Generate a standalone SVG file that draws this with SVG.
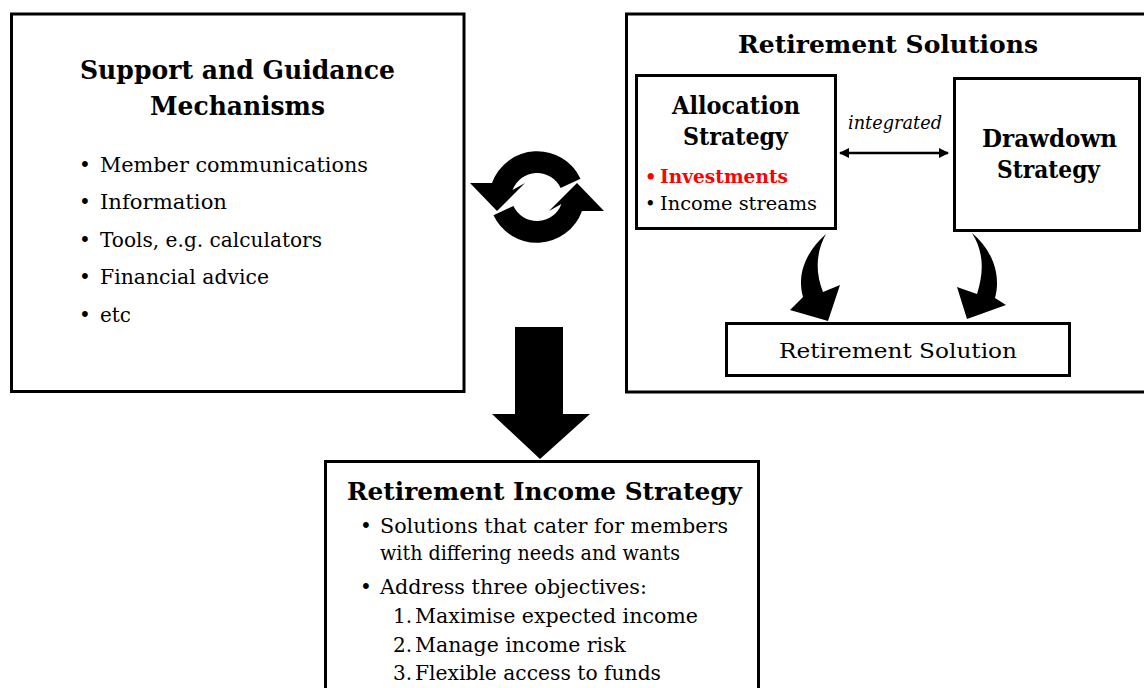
<svg xmlns="http://www.w3.org/2000/svg" width="1144" height="688" viewBox="0 0 1144 688">
  <style>
    .box { fill: #fff; stroke: #000; stroke-width: 3; }
    .t { font-family: "DejaVu Serif", "Liberation Serif", serif; fill: #000; }
    .b { font-weight: bold; }
    .h1 { font-size: 26px; }
    .h2 { font-size: 24px; }
    .body { font-size: 20px; }
    .small { font-size: 18px; }
    .ital { font-style: italic; }
    .red { fill: #ff0000; }
    .solid { fill: #000; stroke: none; }
  </style>
  <defs>
    <marker id="ah" viewBox="0 0 10 10" refX="9" refY="5" markerWidth="10" markerHeight="10" markerUnits="userSpaceOnUse" orient="auto-start-reverse">
      <path d="M0,0 L10,5 L0,10 Z" fill="#000"/>
    </marker>
    <path id="halfCycle" d="M492,183 A48,48 0 0 1 580.5,178.7 L560.6,188 A26,26 0 0 0 512.6,190 L525,183 L497,211 L470,183 Z"/>
  </defs>

  <rect width="1144" height="688" fill="#fff"/>

  <!-- Support and guidance mechanisms -->
  <g id="support">
    <rect class="box" x="11.5" y="14" width="452.5" height="377.5"/>
    <text class="t b h1" x="237.5" y="79" text-anchor="middle" textLength="315" lengthAdjust="spacingAndGlyphs">Support and Guidance</text>
    <text class="t b h1" x="237.5" y="115" text-anchor="middle" textLength="175" lengthAdjust="spacingAndGlyphs">Mechanisms</text>
    <g class="t body">
      <text x="79" y="171.5">•</text>
      <text x="100" y="171.5" textLength="268" lengthAdjust="spacingAndGlyphs">Member communications</text>
      <text x="79" y="209">•</text>
      <text x="100" y="209" textLength="127" lengthAdjust="spacingAndGlyphs">Information</text>
      <text x="79" y="246.5">•</text>
      <text x="100" y="246.5" textLength="222" lengthAdjust="spacingAndGlyphs">Tools, e.g. calculators</text>
      <text x="79" y="284">•</text>
      <text x="100" y="284" textLength="169" lengthAdjust="spacingAndGlyphs">Financial advice</text>
      <text x="79" y="321.5">•</text>
      <text x="100" y="321.5" textLength="31" lengthAdjust="spacingAndGlyphs">etc</text>
    </g>
  </g>

  <!-- Two-way cycle symbol -->
  <g id="cycle">
    <use href="#halfCycle" class="solid"/>
    <use href="#halfCycle" class="solid" transform="rotate(180 537 197)"/>
  </g>

  <!-- Retirement solutions panel -->
  <g id="solutions">
    <rect class="box" x="626.5" y="14" width="530" height="378"/>
    <text class="t b h2" x="888" y="53" text-anchor="middle" textLength="300" lengthAdjust="spacingAndGlyphs">Retirement Solutions</text>
  </g>

  <g id="allocation">
    <rect class="box" x="636.5" y="75.5" width="199" height="153"/>
    <text class="t b h2" x="736" y="114" text-anchor="middle" textLength="128" lengthAdjust="spacingAndGlyphs">Allocation</text>
    <text class="t b h2" x="735.5" y="145" text-anchor="middle" textLength="105" lengthAdjust="spacingAndGlyphs">Strategy</text>
    <text class="t b small red" x="645" y="183">•</text>
    <text class="t b small red" x="660" y="183" textLength="128" lengthAdjust="spacingAndGlyphs">Investments</text>
    <text class="t small" x="645" y="210">•</text>
    <text class="t small" x="660" y="210" textLength="157" lengthAdjust="spacingAndGlyphs">Income streams</text>
  </g>

  <g id="drawdown">
    <rect class="box" x="954.5" y="78.5" width="185" height="152"/>
    <text class="t b h2" x="1049.5" y="147" text-anchor="middle" textLength="135" lengthAdjust="spacingAndGlyphs">Drawdown</text>
    <text class="t b h2" x="1048.5" y="178" text-anchor="middle" textLength="103" lengthAdjust="spacingAndGlyphs">Strategy</text>
  </g>

  <g id="solution">
    <rect class="box" x="726.5" y="323.5" width="343" height="52"/>
    <text class="t body" x="898" y="358" text-anchor="middle" textLength="238" lengthAdjust="spacingAndGlyphs">Retirement Solution</text>
  </g>

  <!-- Retirement income strategy -->
  <g id="income-strategy">
    <rect class="box" x="325.5" y="461.5" width="433" height="240"/>
    <text class="t b h2" x="544.5" y="500" text-anchor="middle" textLength="395" lengthAdjust="spacingAndGlyphs">Retirement Income Strategy</text>
    <g class="t body">
      <text x="360" y="533">•</text>
      <text x="380" y="533" textLength="348" lengthAdjust="spacingAndGlyphs">Solutions that cater for members</text>
      <text x="380" y="560" textLength="300" lengthAdjust="spacingAndGlyphs">with differing needs and wants</text>
      <text x="360" y="594">•</text>
      <text x="380" y="594" textLength="267" lengthAdjust="spacingAndGlyphs">Address three objectives:</text>
      <text x="393" y="623">1.</text>
      <text x="415" y="623" textLength="283" lengthAdjust="spacingAndGlyphs">Maximise expected income</text>
      <text x="393" y="652">2.</text>
      <text x="415" y="652" textLength="211" lengthAdjust="spacingAndGlyphs">Manage income risk</text>
      <text x="393" y="680">3.</text>
      <text x="415" y="680" textLength="246" lengthAdjust="spacingAndGlyphs">Flexible access to funds</text>
    </g>
  </g>

  <!-- Connectors -->
  <g id="connectors">
    <line x1="840" y1="153" x2="948" y2="153" stroke="#000" stroke-width="2.5" marker-start="url(#ah)" marker-end="url(#ah)"/>
    <text class="t small ital" x="895" y="129" text-anchor="middle" textLength="94" lengthAdjust="spacingAndGlyphs">integrated</text>
    <!-- curved arrow from allocation strategy -->
    <path class="solid" d="M826,234 C808,250 796,272 803,297 L790,310 L828,321 L840,285 L823,292 C815,272 816,252 826,234 Z"/>
    <!-- curved arrow from drawdown strategy -->
    <path class="solid" d="M972,233 C990,248 1002,272 995,298 L1006,305 L967,319 L957,287 L977,294 C984,272 984,252 972,233 Z"/>
    <!-- block arrow to income strategy -->
    <polygon class="solid" points="515,327 563,327 563,414 590,414 540,459 492,414 515,414"/>
  </g>
</svg>
